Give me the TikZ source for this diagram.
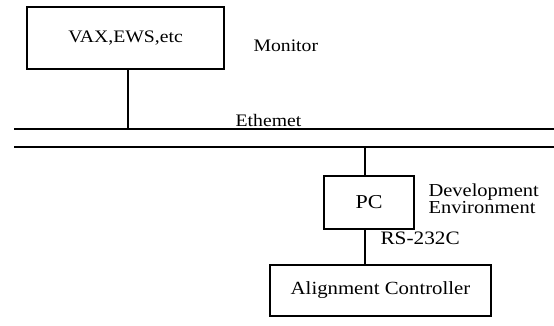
\documentclass[tikz,border=0pt]{standalone}
\usepackage{fontspec}
\setmainfont[FakeStretch=1.12]{Liberation Serif}
\usetikzlibrary{positioning}

\begin{document}
\begin{tikzpicture}[x=0.025cm, y=-0.025cm, line width=0.8pt,
    box/.style={rectangle, draw, inner sep=0pt},
    lbl/.style={font=\fontsize{12.5}{14}\selectfont}]
    \useasboundingbox (0,0) rectangle (554,325);
    % the two ethernet cables
    \coordinate (ethAl) at (14,129);
    \coordinate (ethAr) at (554,129);
    \coordinate (ethBl) at (14,147);
    \coordinate (ethBr) at (554,147);
    \draw[line width=1.1pt] (ethAl) -- (ethAr);
    \draw[line width=1.1pt] (ethBl) -- (ethBr);
    \node[box, minimum width=197*0.025cm, minimum height=62*0.025cm, font=\fontsize{12.5}{15}\selectfont]
        (vax) at (125.5,38) {VAX,EWS,etc};
    \node[lbl, anchor=west, inner sep=0pt] (mon) at (253,46) {Monitor};
    \node[lbl, inner sep=0pt] (eth) at (268.5,120) {Ethemet};
    \node[box, minimum width=90*0.025cm, minimum height=53*0.025cm, font=\fontsize{14}{16}\selectfont]
        (pc) at (369,202.5) {PC};
    \node[font=\fontsize{13}{12}\selectfont, anchor=west, align=left, inner sep=0pt]
        (dev) at (428,199) {Development\\Environment};
    \node[box, minimum width=221*0.025cm, minimum height=51*0.025cm, font=\fontsize{13.2}{15}\selectfont]
        (ctrl) at (380.5,290.5) {Alignment Controller};
    \node[font=\fontsize{13.5}{15}\selectfont, anchor=west, inner sep=0pt] (rs) at (380,238) {RS-232C};
    % links to the cables
    \draw (vax.south -| 128,0) -- (128,129);
    \draw (365,147) -- (pc.north -| 365,0);
    \draw (pc.south -| 365,0) -- (ctrl.north -| 365,0);
\end{tikzpicture}
\end{document}
